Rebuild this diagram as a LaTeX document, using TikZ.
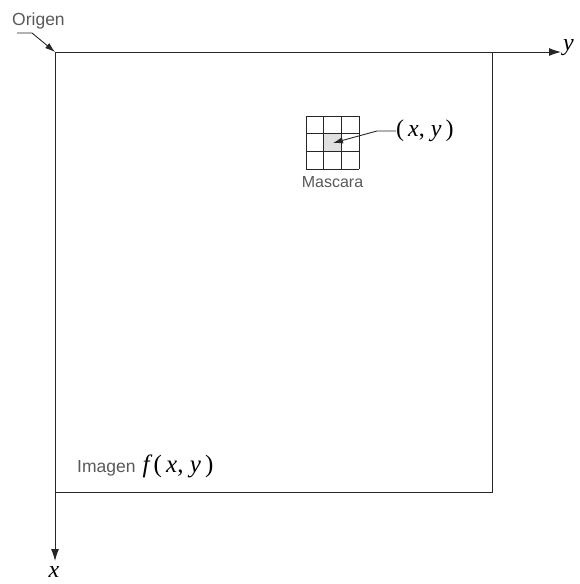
\documentclass[tikz,border=0pt]{standalone}
\usepackage{fontspec}
\setsansfont{Liberation Sans}
\setmainfont{Liberation Serif}
\usetikzlibrary{arrows.meta}
\begin{document}
\begin{tikzpicture}[x=1pt,y=-1pt,
  axis/.style={line width=1pt,draw=black!85,-{Latex[length=12pt,width=8pt]}},
  frame/.style={line width=1pt,draw=black!85},
  grid cell/.style={line width=0.9pt,draw=black!85},
  lbl/.style={font=\sffamily\fontsize{17.5}{20}\selectfont,text=black!65,inner sep=0pt},
  small lbl/.style={font=\sffamily\fontsize{16}{18}\selectfont,text=black!65,inner sep=0pt},
  mathlbl/.style={font=\fontsize{24}{26}\selectfont,inner sep=0pt},
  pointer/.style={line width=0.9pt,draw=black!85,-{Latex[length=10pt,width=6.5pt]}}]
\useasboundingbox (0,0) rectangle (579,584);
% origin and axes
\coordinate (O) at (55,52);
\coordinate (Yend) at (561,52);
\coordinate (Xend) at (55,561);
\draw[axis] (O) -- (Yend);
\draw[axis] (O) -- (Xend);
\node[mathlbl,anchor=west] (ylab) at (563,48) {\itshape y};
\node[mathlbl,anchor=north] (xlab) at (54,566) {\itshape x};
% image frame
\coordinate (TR) at (492,52);
\coordinate (BR) at (492,492);
\coordinate (BL) at (55,492);
\draw[frame] (TR) -- (BR) -- (BL);
% Origen label
\node[lbl,anchor=base west] (origen) at (12,25) {Origen};
\coordinate (o1) at (17,33);
\draw[pointer] (o1) -- (32,33) -- (O);
% mask
\fill[black!12] (323.7,133.7) rectangle (341.3,151.3);
\foreach \i in {0,1,2,3} {
  \draw[grid cell] (306+17.67*\i,116) -- (306+17.67*\i,169);
  \draw[grid cell] (306,116+17.67*\i) -- (359,116+17.67*\i);
}
\node[small lbl,anchor=north] (mascara) at (332.5,176) {Mascara};
\coordinate (center) at (333,143);
\node[mathlbl,anchor=west] (xy) at (396,131) {(\,\itshape x\upshape,\ \itshape y\upshape\,)};
\draw[pointer] (xy.west) -- (377,131) -- (center);
% image label
\node[lbl,anchor=base west] (imagen) at (77,472) {Imagen\hspace{7pt}\fontsize{25}{27}\selectfont\rmfamily\color{black}\itshape f\upshape\,(\,\itshape x\upshape,\ \itshape y\upshape\,)};
\end{tikzpicture}
\end{document}
